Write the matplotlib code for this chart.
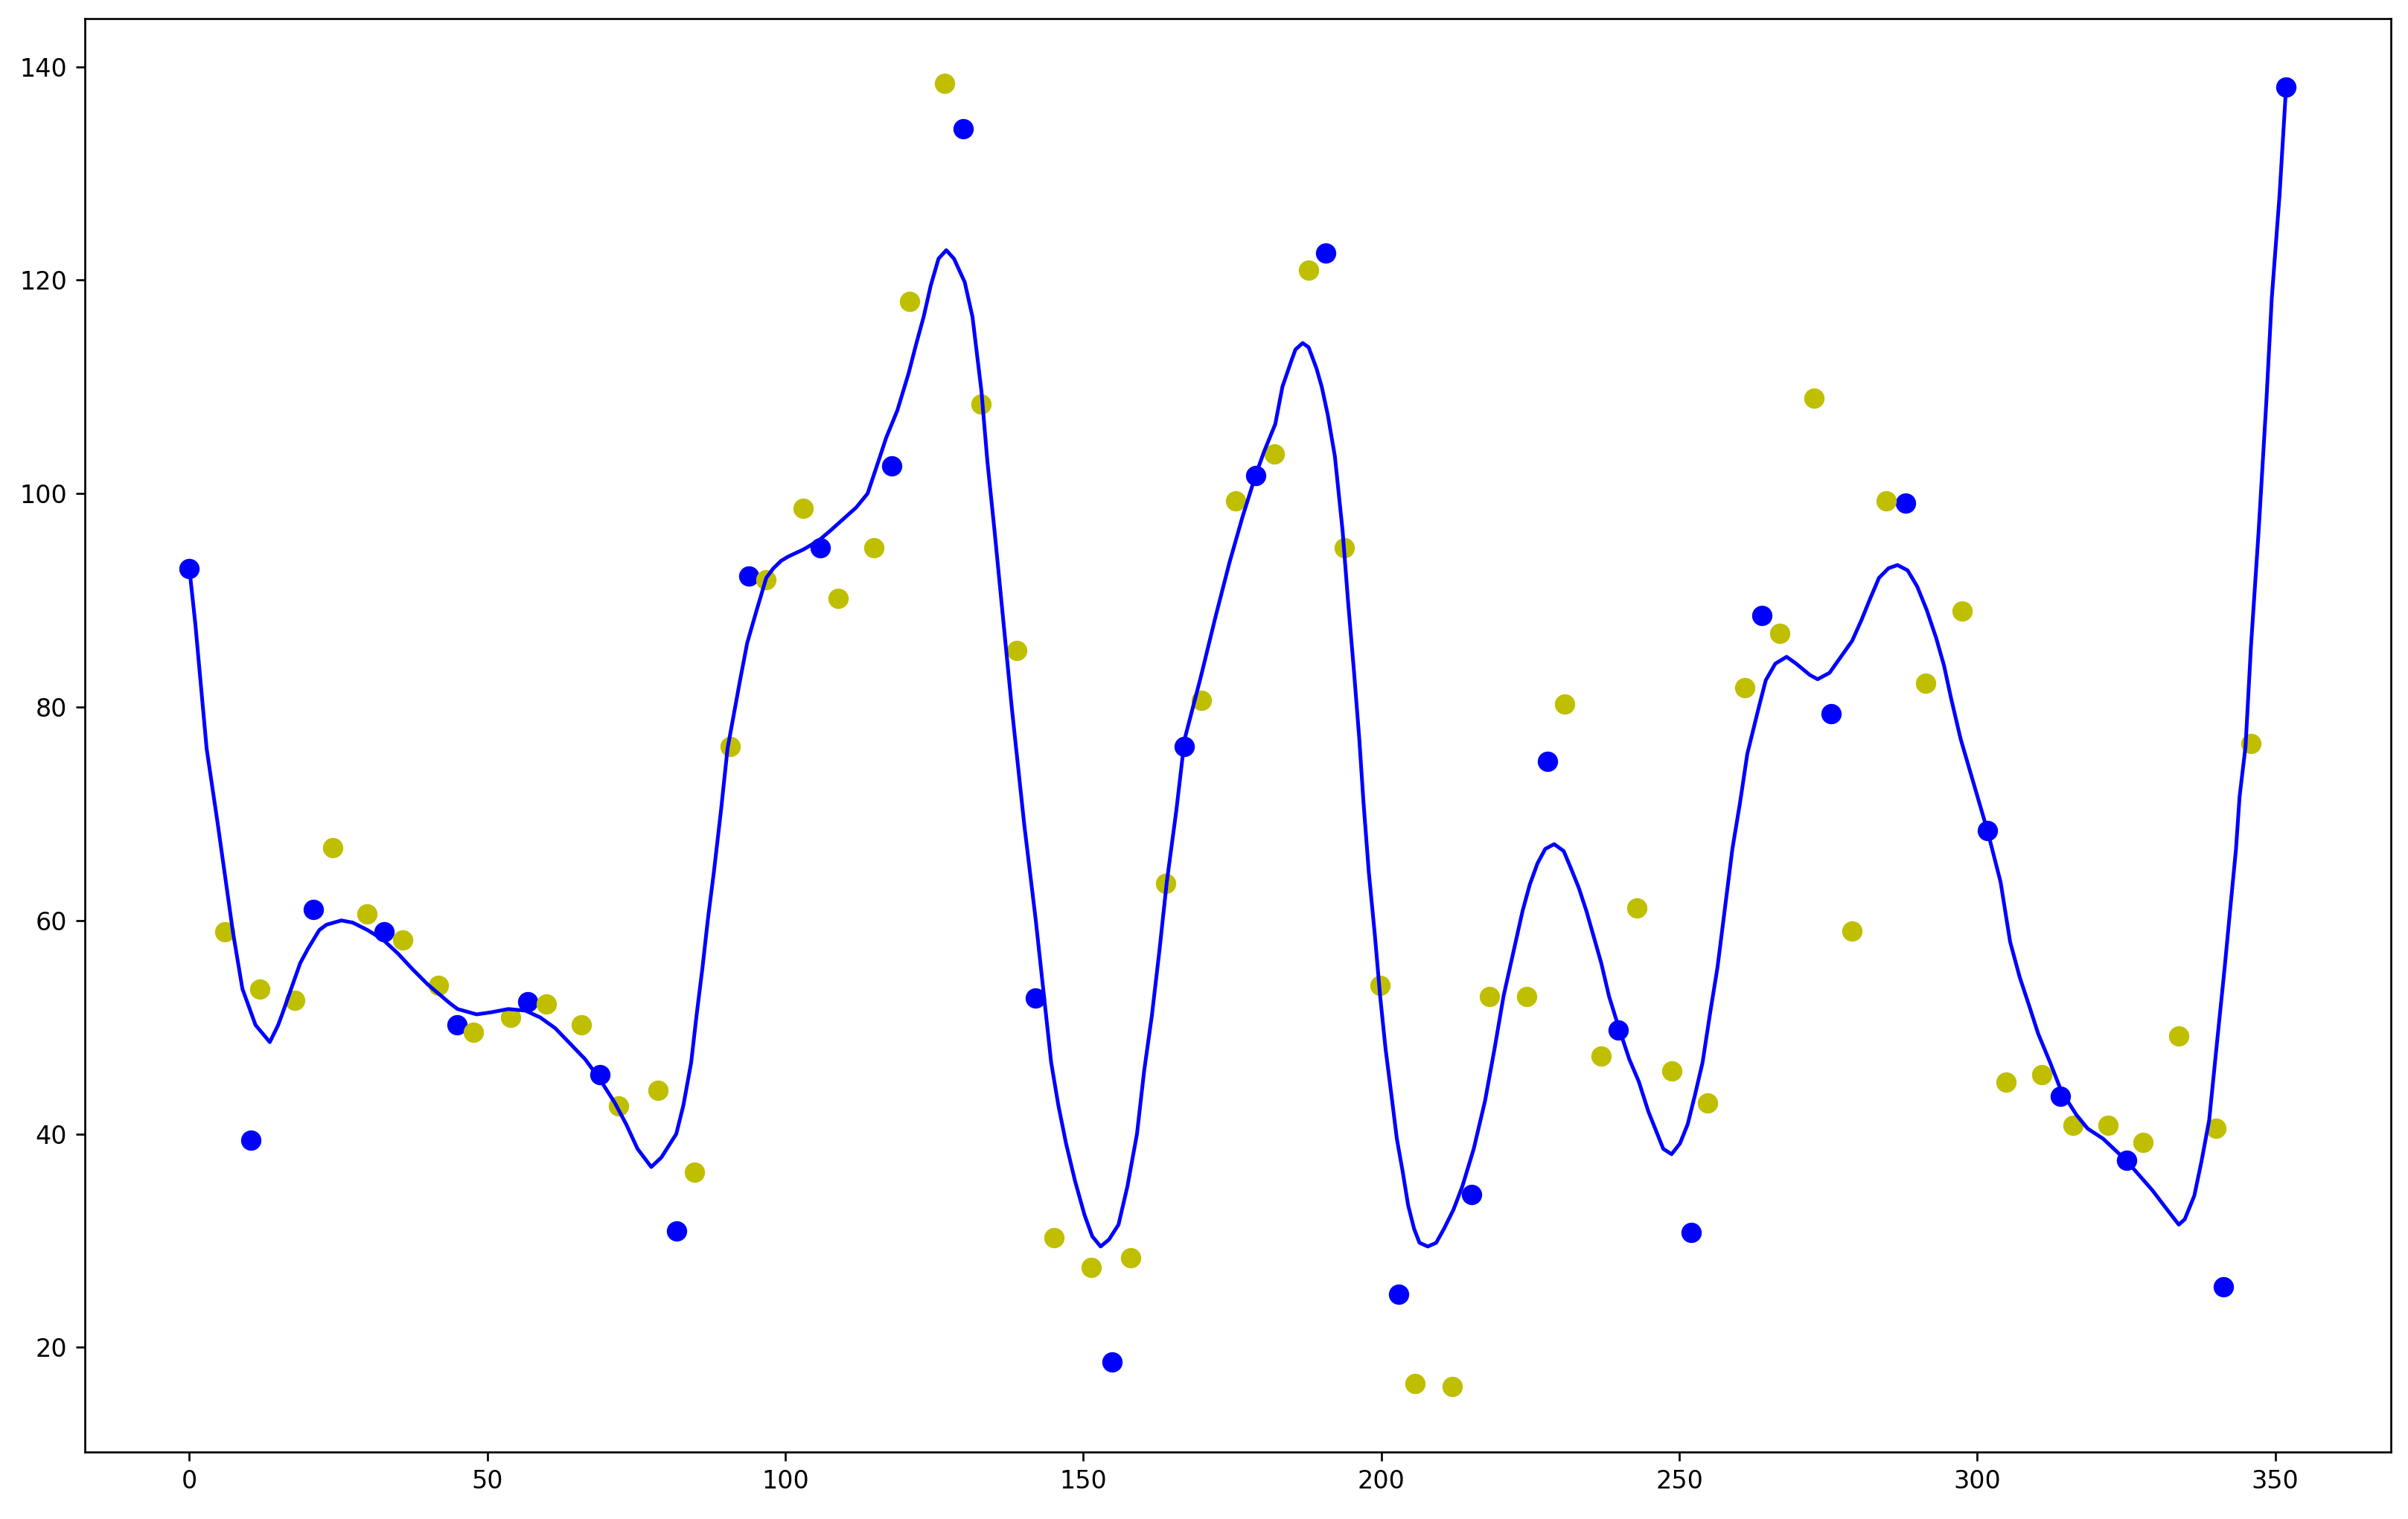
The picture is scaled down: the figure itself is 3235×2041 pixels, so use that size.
"""Smoothed fit (blue line) through training points (blue) with held-out points (yellow)."""

import matplotlib
matplotlib.use("Agg")
import matplotlib.pyplot as plt  # noqa: E402

# points used for the fit
train_x = [0.0, 10.3, 20.8, 32.7, 44.9, 56.8, 68.9, 81.8, 93.9, 105.8,
           117.9, 129.8, 141.9, 154.8, 166.9, 178.9, 190.7, 202.9, 215.1, 227.9,
           239.7, 252.0, 263.8, 275.5, 287.9, 301.7, 313.9, 325.0, 341.3, 351.8]
train_y = [93.0, 39.4, 61.05, 58.95, 50.2, 52.4, 45.55, 30.9, 92.3, 94.9,
           102.6, 134.2, 52.7, 18.6, 76.3, 101.7, 122.5, 25.0, 34.35, 74.9,
           49.7, 30.8, 88.6, 79.4, 99.1, 68.4, 43.5, 37.5, 25.7, 138.05]

# held-out points
test_x = [5.9, 11.8, 17.7, 24.0, 29.8, 35.8, 41.8, 47.7, 53.9, 59.9,
          65.8, 72.0, 78.6, 84.8, 90.8, 96.8, 103.0, 108.9, 114.9, 120.8,
          126.7, 132.9, 138.8, 145.1, 151.3, 157.9, 163.8, 169.8, 175.6, 182.0,
          187.8, 193.8, 199.8, 205.7, 211.9, 218.2, 224.4, 230.7, 236.9, 242.9,
          248.8, 254.7, 261.0, 266.9, 272.6, 279.0, 284.7, 291.3, 297.5, 304.8,
          310.8, 316.0, 321.9, 327.8, 333.8, 340.0, 345.9]
test_y = [58.95, 53.6, 52.5, 66.8, 60.6, 58.2, 53.9, 49.5, 50.9, 52.15,
          50.2, 42.6, 44.1, 36.4, 76.3, 91.95, 98.6, 90.2, 94.9, 118.0,
          138.4, 108.4, 85.3, 30.3, 27.5, 28.4, 63.5, 80.6, 99.3, 103.7,
          120.9, 94.9, 53.9, 16.6, 16.3, 52.9, 52.9, 80.3, 47.3, 61.2,
          45.9, 42.9, 81.8, 86.9, 108.9, 59.0, 99.3, 82.2, 89.0, 44.85,
          45.55, 40.8, 40.8, 39.2, 49.2, 40.5, 76.6]

# fitted curve
fit_x = [0.0, 1.0, 2.9, 4.8, 7.3, 8.9, 11.1, 13.5, 14.9, 15.5,
         18.6, 19.9, 21.8, 23.0, 25.5, 27.4, 29.9, 32.5, 35.0, 37.5,
         40.0, 43.8, 45.0, 48.2, 50.7, 53.5, 56.4, 58.9, 61.4, 63.9,
         66.4, 68.9, 71.4, 73.3, 75.2, 77.5, 79.2, 81.7, 82.9, 84.2,
         85.1, 86.1, 87.0, 88.0, 89.2, 90.3, 92.4, 93.6, 95.2, 96.8,
         98.0, 99.3, 100.5, 103.0, 105.6, 107.5, 109.3, 111.9, 113.8, 115.6,
         116.9, 118.8, 120.7, 121.9, 123.2, 124.4, 125.7, 127.0, 128.3, 130.1,
         131.4, 132.9, 133.9, 135.1, 136.1, 137.0, 138.0, 140.1, 142.0, 144.6,
         145.8, 147.1, 148.6, 150.2, 151.5, 152.9, 154.3, 155.9, 157.4, 159.0,
         160.2, 161.5, 162.8, 164.0, 165.6, 167.0, 169.7, 172.2, 174.5, 176.7,
         178.9, 180.3, 182.2, 183.4, 185.0, 185.6, 186.8, 187.8, 189.1,
         190.0, 191.0, 192.2, 193.5, 194.4, 195.4, 196.3, 197.0, 197.9, 198.9,
         199.8, 200.7, 201.7, 202.6, 203.6, 204.5, 205.5, 206.4, 207.8, 209.2,
         210.5, 212.1, 213.6, 215.5, 217.4, 219.0, 220.5, 222.1, 223.7, 224.9,
         226.2, 227.5, 229.0, 230.6, 231.8, 233.1, 234.4, 236.9, 238.2, 239.7,
         241.6, 243.2, 244.8, 246.3, 247.3, 248.7, 250.1, 251.4, 252.6, 253.9,
         255.1, 256.4, 257.6, 258.9, 260.2, 261.4, 263.3, 264.5, 266.1, 268.0,
         269.6, 271.9, 273.2, 275.2, 277.1, 279.0, 280.6, 281.9, 283.5, 285.1,
         286.6, 288.3, 289.9, 291.5, 293.1, 294.4, 295.6, 297.2, 301.7, 303.9,
         305.5, 307.1, 308.7, 310.2, 312.2, 314.1, 316.6, 318.5, 321.1, 325.0,
         329.4, 331.3, 333.8, 334.8, 336.4, 337.6, 338.9, 340.2, 341.5, 342.4,
         343.4, 344.0, 345.0, 345.9, 347.2, 348.5, 349.4, 350.7, 351.8]
fit_y = [93.0, 87.8, 76.1, 68.9, 58.95, 53.6, 50.2, 48.6, 50.2, 51.1,
         56.0, 57.35, 59.1, 59.6, 60.0, 59.8, 59.1, 58.2, 56.9, 55.4,
         54.0, 52.2, 51.7, 51.2, 51.4, 51.7, 51.55, 50.9, 49.9, 48.45,
         47.0, 45.1, 42.9, 40.9, 38.6, 36.9, 37.8, 40.0, 42.7, 46.7,
         51.1, 55.6, 60.1, 64.5, 70.3, 76.1, 82.5, 86.0, 89.1, 92.1,
         93.0, 93.7, 94.1, 94.75, 95.6, 96.5, 97.4, 98.7, 100.0, 103.0,
         105.2, 107.8, 111.3, 113.9, 116.55, 119.5, 122.0, 122.8, 122.0, 119.8,
         116.55, 109.6, 103.0, 96.5, 90.8, 85.6, 79.9, 68.9, 60.1, 46.7,
         42.7, 39.1, 35.6, 32.4, 30.4, 29.45, 30.1, 31.5, 35.1, 40.0,
         45.9, 51.1, 57.35, 63.6, 70.3, 77.0, 82.8, 88.5, 93.5, 97.8,
         101.7, 103.9, 106.5, 110.0, 112.6, 113.5, 114.1, 113.7, 111.75,
         110.0, 107.4, 103.5, 96.5, 90.0, 83.4, 77.0, 71.1, 64.5, 58.7,
         52.9, 48.0, 43.6, 39.55, 36.4, 33.3, 31.1, 29.8, 29.45, 29.8,
         31.1, 32.9, 35.1, 38.6, 43.1, 48.0, 52.9, 56.9, 60.9, 63.35,
         65.35, 66.7, 67.15, 66.5, 64.9, 63.1, 60.9, 56.0, 52.9, 50.2,
         47.0, 44.9, 42.1, 40.0, 38.6, 38.1, 39.1, 40.9, 43.6, 46.7,
         51.1, 55.6, 60.9, 66.7, 71.1, 75.6, 79.9, 82.5, 84.06, 84.7,
         84.06, 83.0, 82.6, 83.2, 84.7, 86.2, 88.2, 90.0, 92.1, 93.0,
         93.3, 92.8, 91.3, 89.1, 86.45, 83.9, 80.8, 77.0, 68.4, 63.6,
         58.0, 54.7, 52.0, 49.4, 46.7, 44.0, 41.8, 40.5, 39.55, 37.5,
         34.7, 33.3, 31.5, 32.0, 34.2, 37.4, 41.3, 48.5, 55.6, 60.9,
         66.7, 71.6, 76.3, 85.6, 96.5, 108.7, 118.3, 127.9, 138.05]


def main():
    dpi = 240
    fig = plt.figure(figsize=(3235 / dpi, 2041 / dpi), dpi=dpi)
    ax = fig.add_axes([0.0351, 0.0441, 0.9578, 0.9437])

    ax.plot(train_x, train_y, "bo", markersize=7.2)
    ax.plot(test_x, test_y, "yo", markersize=7.2)
    ax.plot(fit_x, fit_y, "b-", linewidth=1.5)

    fig.savefig("out.png", dpi=dpi)


if __name__ == "__main__":
    main()
